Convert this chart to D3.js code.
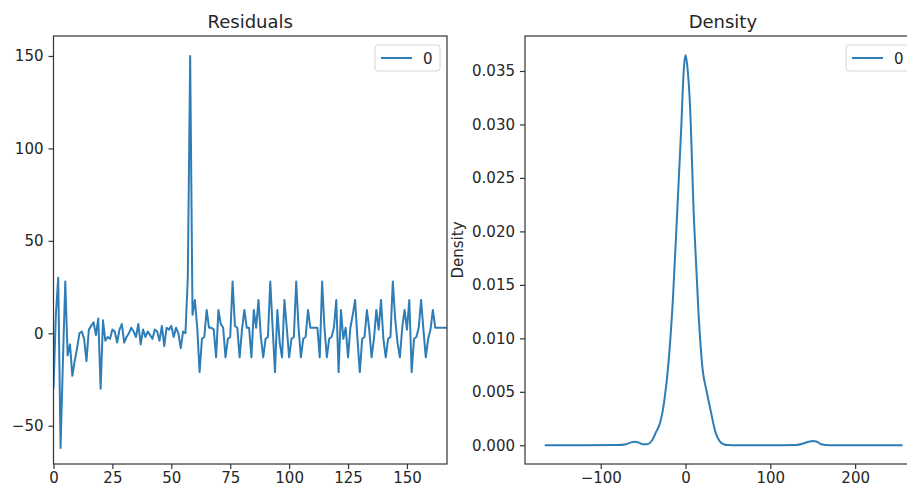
<!DOCTYPE html>
<html>
<head>
<meta charset="utf-8">
<script src="https://cdn.jsdelivr.net/npm/d3@7"></script>
<style>
  html, body { margin: 0; padding: 0; background: #fff; }
  svg { display: block; font-family: "DejaVu Sans", sans-serif; }
</style>
</head>
<body>
<svg id="chart" width="907" height="487"></svg>
<script>
// ---------- data ----------
const residuals = [
  -30, 10, 30, -62, -15, 28, -12, -6, -23, -15,
  -8, 0, 1, -3, -15, 2, 4, 6, -1, 8,
  -30, 7, -4, -2, -3, 2, 1, -5, 2, 5,
  -5, -2, 0, 3, 1, -2, 5, -6, 2, -2,
  1, -1, -3, 2, 1, -4, 4, -7, 3, 2,
  4, -2, 3, 0, -8, 1, 0, 30, 150, 10,
  18, 3, -21, -3, -2, 12.6, 3, 3, 2, -13,
  12.6, 5, 3, -13, -3, -2, 28, 4, 3, -13,
  2, 12.6, 3, 3, -13, 12.6, 3, 18, -2, -13,
  -3, -2, 28, 3, -21, 12.6, -5, -13, 18, 3,
  -13, -3, -2, 28, 3, -13, -3, -2, 12.6, 3,
  3, 3, 3, -13, 28, 3, -13, -3, -2, 3,
  18, -21, 12.6, -3, 3, -13, 3, 10, 18, -3,
  -21, -3, -2, 12.6, 2, -13, -3, 12.6, 2, 18,
  -3, -13, -3, -2, 28, 8, -5, -13, 3, 12.6,
  2, 18, -21, -3, -2, 3, 18, 2, -13, -3,
  2, 12.6, 3, 3, 3, 3, 3, 3
];
const densityX = [-166, -120, -80, -70, -65, -60, -55, -50, -45, -40, -35, -30, -25, -20, -15, -10, -5, -2, 0, 2, 5, 10, 15, 20, 25, 30, 35, 40, 45, 50, 60, 100, 130, 140, 145, 150, 155, 160, 170, 200, 256];
const densityY = [0, 0, 0.00002, 0.0001, 0.00025, 0.00034, 0.00025, 0.0001, 0.0001, 0.0004, 0.0012, 0.0021, 0.0042, 0.0078, 0.0135, 0.0215, 0.0298, 0.0352, 0.0365, 0.0355, 0.0322, 0.021, 0.0128, 0.0072, 0.005, 0.0031, 0.0013, 0.0004, 0.0001, 0.00002, 0, 0, 0.00003, 0.0002, 0.00033, 0.0004, 0.00033, 0.0001, 0, 0, 0];
const residXTicks = [0, 25, 50, 75, 100, 125, 150];
const residYTicks = [-50, 0, 50, 100, 150];
const densXTicks = [-100, 0, 100, 200];
const densYTicks = [0, 0.005, 0.01, 0.015, 0.02, 0.025, 0.03, 0.035];
const titles = ["Residuals", "Density"];
const legendLabel = "0";

// ---------- setup ----------
const svg = d3.select("#chart");
const lineColor = "#2e7db7";
const spineColor = "#333";
const textColor = "#262626";
const tickLen = 5, tickPad = 5;
const fontTick = 15, fontTitle = 18;

function minusFmt(f) {
  return d => f(d).replace("-", "\u2212");
}

function drawAxes(g, x, y, xTicks, yTicks, xFmt, yFmt, box) {
  g.append("rect")
    .attr("x", box.l).attr("y", box.t)
    .attr("width", box.r - box.l).attr("height", box.b - box.t)
    .attr("fill", "none").attr("stroke", spineColor).attr("stroke-width", 1.2);
  const xa = d3.axisBottom(x).tickValues(xTicks).tickFormat(xFmt)
    .tickSizeInner(tickLen).tickSizeOuter(0).tickPadding(3);
  const ya = d3.axisLeft(y).tickValues(yTicks).tickFormat(yFmt)
    .tickSizeInner(tickLen).tickSizeOuter(0).tickPadding(tickPad);
  const gx = g.append("g").attr("transform", `translate(0,${box.b})`).call(xa);
  const gy = g.append("g").attr("transform", `translate(${box.l},0)`).call(ya);
  [gx, gy].forEach(a => {
    a.select(".domain").remove();
    a.selectAll("line").attr("stroke", spineColor).attr("stroke-width", 1.2);
    a.selectAll("text").attr("fill", textColor)
      .style("font-family", "DejaVu Sans, sans-serif").style("font-size", fontTick + "px");
  });
  gx.selectAll("text").attr("dy", "0.72em");
}

function drawLegend(g, x0, y0, w, h) {
  g.append("rect").attr("x", x0).attr("y", y0).attr("width", w).attr("height", h)
    .attr("rx", 3).attr("fill", "#fff").attr("fill-opacity", 0.8)
    .attr("stroke", "#d6d6d6").attr("stroke-width", 1);
  g.append("line").attr("x1", x0 + 6).attr("x2", x0 + 37)
    .attr("y1", y0 + h / 2).attr("y2", y0 + h / 2)
    .attr("stroke", lineColor).attr("stroke-width", 2);
  g.append("text").attr("x", x0 + 48).attr("y", y0 + h / 2 + 5.5)
    .attr("fill", textColor).style("font-size", fontTick + "px").text(legendLabel);
}

// ---------- left: residuals ----------
const boxL = { l: 53.5, r: 447, t: 36, b: 464 };
const xL = d3.scaleLinear().domain([0, residuals.length - 1]).range([boxL.l, boxL.r]);
const yL = d3.scaleLinear().domain([-70.7, 160.8]).range([boxL.b, boxL.t]);
const gL = svg.append("g");
gL.append("defs").append("clipPath").attr("id", "clipL")
  .append("rect").attr("x", boxL.l).attr("y", boxL.t)
  .attr("width", boxL.r - boxL.l).attr("height", boxL.b - boxL.t);
gL.append("path")
  .datum(residuals)
  .attr("clip-path", "url(#clipL)")
  .attr("fill", "none").attr("stroke", lineColor).attr("stroke-width", 2)
  .attr("stroke-linejoin", "round")
  .attr("d", d3.line().x((d, i) => xL(i)).y(d => yL(d)));
drawAxes(gL, xL, yL, residXTicks, residYTicks, minusFmt(d3.format("d")), minusFmt(d3.format("d")), boxL);
gL.append("text").attr("x", (boxL.l + boxL.r) / 2).attr("y", 28)
  .attr("text-anchor", "middle").attr("fill", textColor)
  .style("font-size", fontTitle + "px").text(titles[0]);
drawLegend(gL, 375, 45, 65, 26);

// ---------- right: density ----------
const boxR = { l: 525, r: 920.7, t: 36, b: 464 };
const xR = d3.scaleLinear().domain([-189.3, 277.3]).range([boxR.l, boxR.r]);
const yR = d3.scaleLinear().domain([-0.00175, 0.03827]).range([boxR.b, boxR.t]);
const gR = svg.append("g");
const dens = densityX.map((x, i) => [x, densityY[i]]);
gR.append("path")
  .datum(dens)
  .attr("fill", "none").attr("stroke", lineColor).attr("stroke-width", 2)
  .attr("stroke-linejoin", "round")
  .attr("d", d3.line().curve(d3.curveMonotoneX).x(d => xR(d[0])).y(d => yR(d[1])));
drawAxes(gR, xR, yR, densXTicks, densYTicks, minusFmt(d3.format("d")), d3.format(".3f"), boxR);
gR.append("text").attr("x", (boxR.l + boxR.r) / 2).attr("y", 28)
  .attr("text-anchor", "middle").attr("fill", textColor)
  .style("font-size", fontTitle + "px").text(titles[1]);
gR.append("text").attr("transform", `translate(463,${(boxR.t + boxR.b) / 2}) rotate(-90)`)
  .attr("text-anchor", "middle").attr("fill", textColor)
  .style("font-size", fontTick + "px").text("Density");
drawLegend(gR, 846, 45, 65, 26);
</script>
</body>
</html>
